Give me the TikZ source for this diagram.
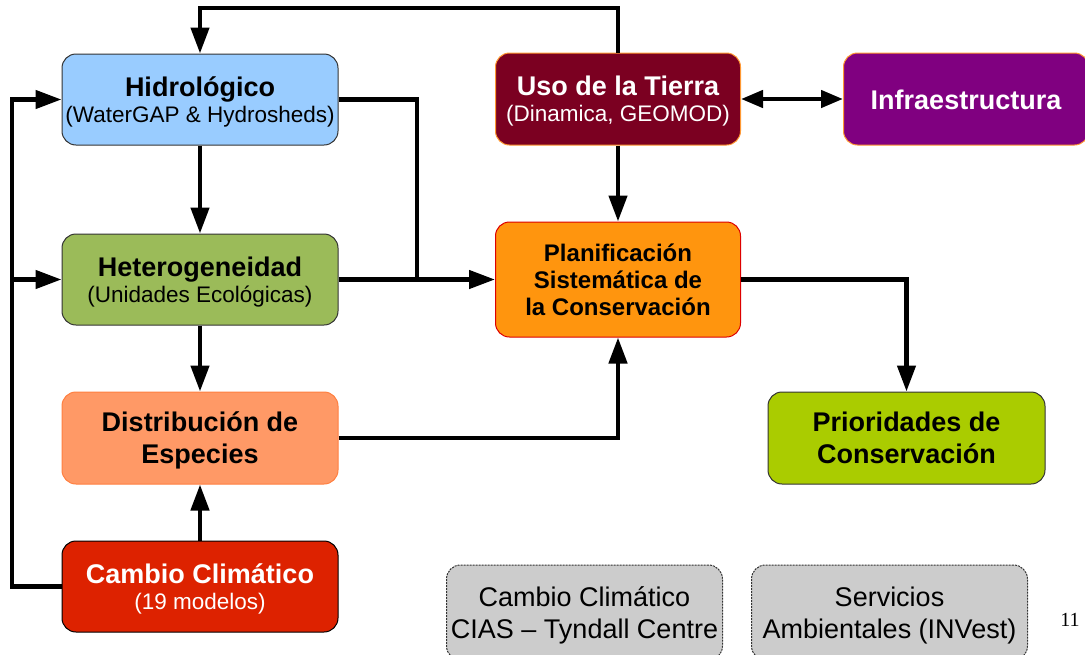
\documentclass[tikz,border=0pt]{standalone}
\usepackage{fontspec}
\setmainfont{Liberation Sans}
\newfontfamily\serifnum{Liberation Serif}
\usetikzlibrary{arrows.meta}
\definecolor{hidF}{HTML}{99CCFF}
\definecolor{hetF}{HTML}{9BBB59}
\definecolor{disF}{HTML}{FF9966}
\definecolor{disB}{HTML}{FF7F40}
\definecolor{camF}{HTML}{DD2200}
\definecolor{usoF}{HTML}{7B0021}
\definecolor{infF}{HTML}{800080}
\definecolor{orB}{HTML}{FF9933}
\definecolor{plaF}{HTML}{FF950E}
\definecolor{plaB}{HTML}{DD0000}
\definecolor{priF}{HTML}{AACC00}
\definecolor{grF}{HTML}{CCCCCC}
\definecolor{bdark}{HTML}{333333}
\newcommand\ttlfont{\fontsize{27}{26}\selectfont\bfseries}
\newcommand\subfont{\fontsize{22.5}{26}\selectfont\mdseries}
\newcommand\twofont{\fontsize{27}{32}\selectfont\bfseries}
\newcommand\planfont{\fontsize{24}{27}\selectfont\bfseries}
\newcommand\grayfont{\fontsize{27}{32}\selectfont}
\tikzset{
  box/.style={rectangle, rounded corners=14pt, line width=1pt, inner sep=0pt, align=center, text depth=0pt},
  wide/.style={box, minimum width=276pt, minimum height=91pt},
  mid/.style={box, minimum width=245pt, minimum height=92pt},
  titsub/.style={text height=45.5pt, font=\ttlfont},
  twoline/.style={text height=50.6pt, font=\twofont},
  graybox/.style={box, fill=grF, draw=bdark, dash pattern=on 2pt off 1pt, minimum width=276pt, minimum height=95pt, font=\grayfont, text height=51pt},
  ln/.style={line width=4.5pt},
  arr/.style={line width=4.5pt, -{Triangle[length=26pt,width=18pt]}},
  dbl/.style={line width=4.5pt, {Triangle[length=22pt,width=17pt]}-{Triangle[length=22pt,width=17pt]}}
}
\begin{document}
\begin{tikzpicture}[x=1pt,y=-1pt]
\useasboundingbox (0,0) rectangle (1085,654);
% boxes
\node[wide, titsub, fill=hidF, draw=bdark] (hid) at (200,99.5) {Hidrológico\\{\subfont (WaterGAP \& Hydrosheds)}};
\node[wide, titsub, fill=hetF, draw=bdark] (het) at (200,279.5) {Heterogeneidad\\{\subfont (Unidades Ecológicas)}};
\node[wide, twoline, fill=disF, draw=disB, minimum height=92pt] (dis) at (200,438) {Distribución de\\Especies};
\node[wide, titsub, fill=camF, draw=black, text=white] (cam) at (200,586.5) {Cambio Climático\\{\subfont (19 modelos)}};
\node[mid, titsub, fill=usoF, draw=orB, text=white] (uso) at (618,99) {Uso de la Tierra\\{\subfont (Dinamica, GEOMOD)}};
\node[mid, fill=infF, draw=orB, text=white, font=\ttlfont, text height=21pt] (inf) at (966,99) {Infraestructura};
\node[box, fill=plaF, draw=plaB, minimum width=245pt, minimum height=115pt, font=\planfont, text height=71pt] (pla) at (618,279.5) {Planificación\\Sistemática de\\la Conservación};
\node[wide, twoline, fill=priF, draw=bdark, minimum width=277pt, minimum height=92pt] (pri) at (906.5,438) {Prioridades de\\Conservación};
\node[graybox] (g1) at (584.5,612.5) {Cambio Climático\\CIAS -- Tyndall Centre};
\node[graybox] (g2) at (889.5,612.5) {Servicios\\Ambientales (INVest)};
\node[font=\serifnum\fontsize{20}{24}\selectfont, inner sep=0pt] (pg) at (1070,620) {11};
% junction coordinates
\coordinate (tl) at (200,8);
\coordinate (L1) at (12,99.5);
\coordinate (L2) at (12,279.5);
\coordinate (J) at (417,279.5);
% connectors
\draw[arr] (uso.north) |- (tl) -- (hid.north);
\draw[arr] (cam.west) -| (L1) -- (hid.west);
\draw[arr] (L2) -- (het.west);
\draw[ln] (hid.east) -| (J);
\draw[arr] (het.east) -- (pla.west);
\draw[arr] (hid.south) -- (het.north);
\draw[arr] (het.south) -- (dis.north);
\draw[arr] (cam.north) -- (dis.south);
\draw[arr] (dis.east) -| (pla.south);
\draw[arr] (uso.south) -- (pla.north);
\draw[dbl] (uso.east) -- (inf.west);
\draw[arr] (pla.east) -| (pri.north);
\end{tikzpicture}
\end{document}
